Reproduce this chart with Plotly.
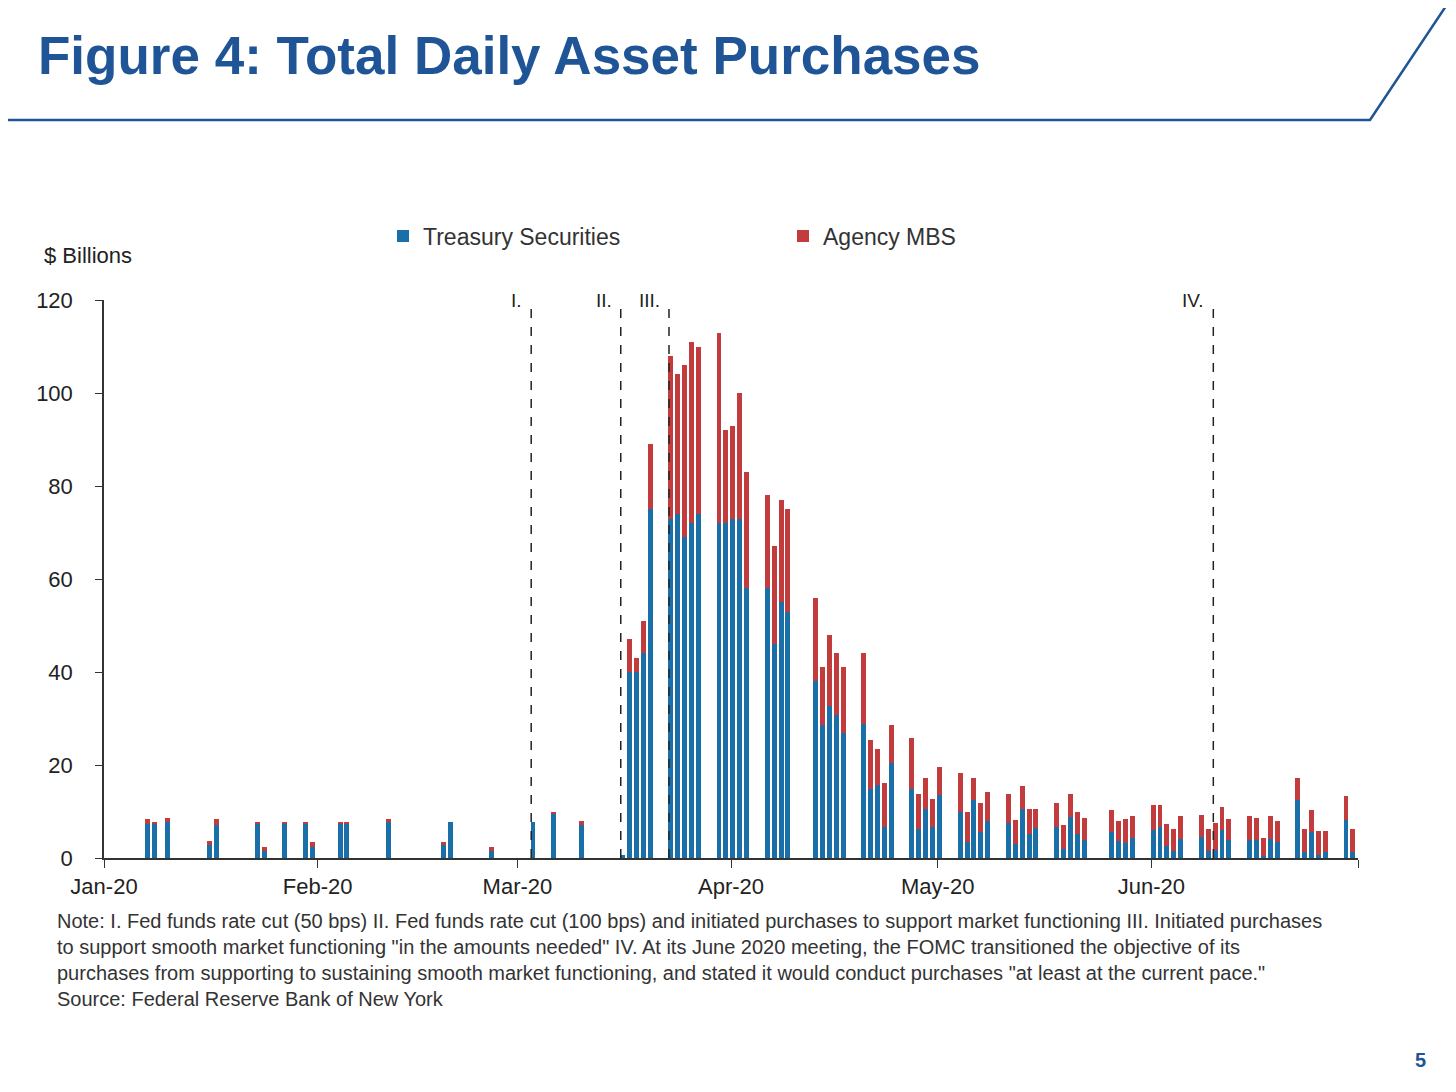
import plotly.graph_objects as go

dates = ["2020-01-07","2020-01-08","2020-01-10","2020-01-16","2020-01-17","2020-01-23","2020-01-24",
         "2020-01-27","2020-01-30","2020-01-31","2020-02-04","2020-02-05","2020-02-11","2020-02-19",
         "2020-02-20","2020-02-26","2020-03-03","2020-03-06","2020-03-10","2020-03-16",
         "2020-03-17","2020-03-18","2020-03-19","2020-03-20",
         "2020-03-23","2020-03-24","2020-03-25","2020-03-26","2020-03-27",
         "2020-03-30","2020-03-31","2020-04-01","2020-04-02","2020-04-03",
         "2020-04-06","2020-04-07","2020-04-08","2020-04-09",
         "2020-04-13","2020-04-14","2020-04-15","2020-04-16","2020-04-17",
         "2020-04-20","2020-04-21","2020-04-22","2020-04-23","2020-04-24",
         "2020-04-27","2020-04-28","2020-04-29","2020-04-30","2020-05-01",
         "2020-05-04","2020-05-05","2020-05-06","2020-05-07","2020-05-08",
         "2020-05-11","2020-05-12","2020-05-13","2020-05-14","2020-05-15",
         "2020-05-18","2020-05-19","2020-05-20","2020-05-21","2020-05-22",
         "2020-05-26","2020-05-27","2020-05-28","2020-05-29",
         "2020-06-01","2020-06-02","2020-06-03","2020-06-04","2020-06-05",
         "2020-06-08","2020-06-09","2020-06-10","2020-06-11","2020-06-12",
         "2020-06-15","2020-06-16","2020-06-17","2020-06-18","2020-06-19",
         "2020-06-22","2020-06-23","2020-06-24","2020-06-25","2020-06-26",
         "2020-06-29","2020-06-30"]

total = [8.4, 7.8, 8.7, 3.7, 8.4, 7.8, 2.4,
         7.8, 7.8, 3.4, 7.8, 7.8, 8.4, 3.5,
         7.8, 2.4, 7.8, 10.0, 8.0, 0.6,
         47, 43, 51, 89,
         108, 104, 106, 111, 110,
         113, 92, 93, 100, 83,
         78, 67, 77, 75,
         56, 41, 48, 44, 41,
         44, 25.4, 23.5, 16.2, 28.5,
         25.9, 13.8, 17.2, 12.7, 19.5,
         18.2, 9.8, 17.2, 11.8, 14.2,
         13.8, 8.2, 15.5, 10.5, 10.5,
         11.8, 7.2, 13.8, 9.8, 8.5,
         10.3, 7.9, 8.3, 9.0,
         11.3, 11.3, 7.3, 6.3, 9.0,
         9.3, 6.3, 7.5, 10.9, 8.3,
         9.0, 8.6, 4.3, 9.0, 7.9,
         17.3, 6.3, 10.3, 5.9, 5.9,
         13.3, 6.3]

treasury = [7.3, 7.5, 7.7, 2.9, 7.2, 7.5, 1.5,
            7.5, 7.4, 2.3, 7.5, 7.5, 7.7, 2.7,
            7.8, 1.4, 7.8, 9.5, 7.0, 0.6,
            40, 40, 44, 75,
            73, 74, 69, 72, 74,
            72, 72, 73, 73, 58,
            58, 46, 55, 53,
            38, 28.7, 32.6, 30.8, 26.9,
            28.9, 14.8, 15.6, 6.6, 20.4,
            14.9, 6.3, 10.6, 6.6, 13.6,
            9.9, 3.4, 12.5, 5.6, 7.9,
            7.6, 3.1, 10.5, 5.2, 6.5,
            6.6, 2.0, 8.8, 5.1, 3.9,
            5.6, 3.7, 3.3, 4.3,
            6.1, 6.7, 2.6, 1.6, 4.1,
            4.5, 1.6, 1.8, 6.1, 3.9,
            3.9, 3.8, 0.5, 4.1, 3.4,
            12.4, 1.3, 5.7, 0.7, 1.2,
            8.2, 1.2]

mbs = [round(max(t - s, 0), 1) for t, s in zip(total, treasury)]

events = ["I.", "II.", "III.", "IV."]
event_dates = ["2020-03-03", "2020-03-16", "2020-03-23", "2020-06-10"]

month_ticks = ["2020-01-01","2020-02-01","2020-03-01","2020-04-01","2020-05-01","2020-06-01","2020-07-01"]
month_labels = ["Jan-20","Feb-20","Mar-20","Apr-20","May-20","Jun-20",""]

# page is drawn with an 8px body offset, so work in shifted pixel coordinates
OFF = 8
W, H = 1456, 1092
L, R, T, B = 104 - OFF, 1358 - OFF, 300 - OFF, 858 - OFF
def px(x): return (x - OFF - L) / (R - L)
def py(y): return (B - (y - OFF)) / (B - T)

blue = "#1b6fa8"
red = "#c23b3d"
navy = "#1f5596"

fig = go.Figure()
fig.add_trace(go.Bar(x=dates, y=treasury, name="Treasury Securities", marker_color=blue,
                     marker_line_width=0, width=0.72 * 86400000, offset=-0.1 * 86400000))
fig.add_trace(go.Bar(x=dates, y=mbs, name="Agency MBS", marker_color=red,
                     marker_line_width=0, width=0.72 * 86400000, offset=-0.1 * 86400000))

for lab, d in zip(events, event_dates):
    fig.add_shape(type="line", x0=d, x1=d, yref="y", y0=0, y1=120,
                  line=dict(color="#222", width=1.5, dash="dash"))
    fig.add_annotation(x=d, y=120, text=lab, showarrow=False, xanchor="right", yanchor="middle",
                       xshift=-7, font=dict(size=19, color="#222"))

# title rule
fig.add_shape(type="path", xref="paper", yref="paper",
              path=f"M {px(0)} {py(120)} L {px(1370)} {py(120)} L {px(1450)} {py(0)}",
              line=dict(color=navy, width=2.5))

fig.add_annotation(xref="paper", yref="paper", x=px(36), y=py(55), text="<b>Figure 4: Total Daily Asset Purchases</b>",
                   showarrow=False, xanchor="left", yanchor="middle",
                   font=dict(family="Liberation Sans, Arial", size=53, color=navy))
fig.add_annotation(xref="paper", yref="paper", x=px(42), y=py(256), text="$ Billions",
                   showarrow=False, xanchor="left", yanchor="middle", font=dict(size=22, color="#222"))

note = ("Note: I. Fed funds rate cut (50 bps) II. Fed funds rate cut (100 bps) and initiated purchases to support market functioning III. Initiated purchases<br>"
        "to support smooth market functioning \"in the amounts needed\" IV. At its June 2020 meeting, the FOMC transitioned the objective of its<br>"
        "purchases from supporting to sustaining smooth market functioning, and stated it would conduct purchases \"at least at the current pace.\"<br>"
        "Source: Federal Reserve Bank of New York")
fig.add_annotation(xref="paper", yref="paper", x=px(55), y=py(908), text=note, showarrow=False,
                   xanchor="left", yanchor="top", align="left",
                   font=dict(size=20, color="#333"))
fig.add_annotation(xref="paper", yref="paper", x=px(1428), y=py(1060), text="<b>5</b>", showarrow=False,
                   xanchor="right", yanchor="middle", font=dict(size=20, color=navy))

fig.update_layout(
    width=W, height=H, barmode="stack", bargap=0,
    paper_bgcolor="white", plot_bgcolor="white",
    margin=dict(l=L, r=W - R, t=T, b=H - B, autoexpand=False),
    font=dict(family="Liberation Sans, Arial", size=22, color="#222"),
    legend=dict(orientation="h", x=px(383), y=py(236), xanchor="left", yanchor="middle",
                entrywidth=355, entrywidthmode="pixels", font=dict(size=23, color="#333"),
                itemwidth=30, traceorder="normal"),
    xaxis=dict(type="date", range=["2020-01-01", "2020-07-01"], tickvals=month_ticks, ticktext=month_labels,
               showgrid=False, showline=True, linecolor="#333", linewidth=1.5,
               ticks="outside", ticklen=8, tickcolor="#333", tickfont=dict(size=22)),
    yaxis=dict(range=[0, 120], tickvals=[0, 20, 40, 60, 80, 100, 120], showgrid=False,
               showline=True, linecolor="#333", linewidth=1.5, ticks="outside", ticklen=7,
               tickcolor="#333", zeroline=False, tickfont=dict(size=22), ticklabelstandoff=18),
)

fig.write_html("out.html")
